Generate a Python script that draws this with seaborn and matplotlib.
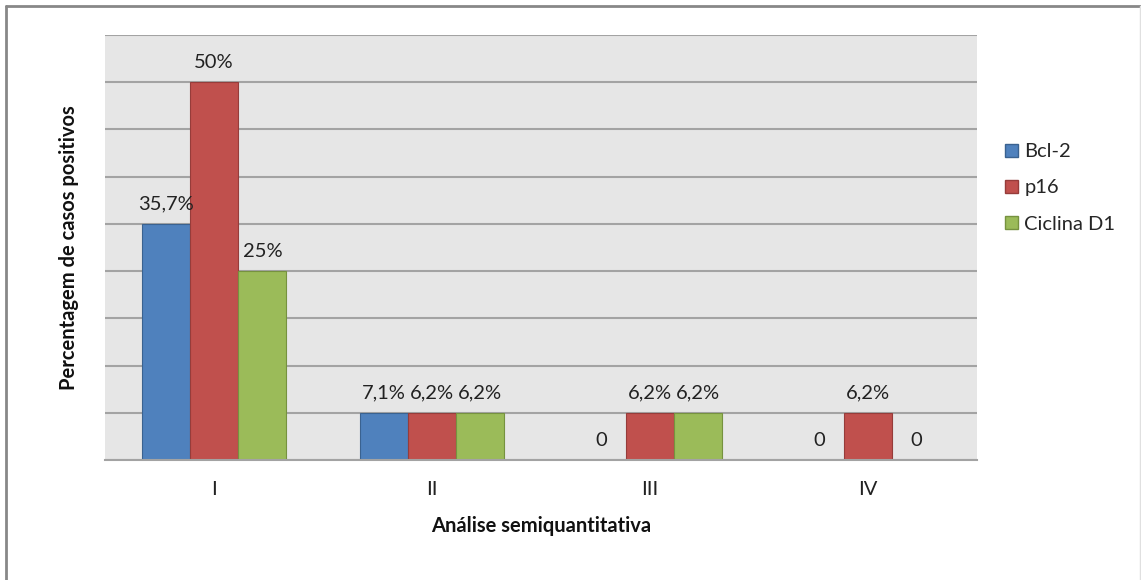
import matplotlib
matplotlib.use("Agg")
import matplotlib.pyplot as plt
import seaborn as sns
import pandas as pd
from matplotlib.lines import Line2D

categories = ["I", "II", "III", "IV"]
series = ["Bcl-2", "p16", "Ciclina D1"]
bcl2_values = [5, 1, 0, 0]
p16_values = [8, 1, 1, 1]
ciclina_values = [4, 1, 1, 0]
bcl2_labels = ["35,7%", "7,1%", "0", "0"]
p16_labels = ["50%", "6,2%", "6,2%", "6,2%"]
ciclina_labels = ["25%", "6,2%", "6,2%", "0"]

colors = ["#4F81BD", "#C0504D", "#9BBB59"]
edges = ["#3A6290", "#963C3A", "#76923F"]

rows = []
for name, vals in zip(series, [bcl2_values, p16_values, ciclina_values]):
    for c, v in zip(categories, vals):
        rows.append({"cat": c, "serie": name, "val": v})
df = pd.DataFrame(rows)

sns.set_theme(style="white")
plt.rcParams["font.family"] = ["Lato", "DejaVu Sans"]

FS = 14.5

fig = plt.figure(figsize=(11.41, 5.80), dpi=100)
ax = fig.add_axes([105/1141, 120/580, (977-105)/1141, (460-35)/580])

sns.barplot(data=df, x="cat", y="val", hue="serie", order=categories,
            hue_order=series, palette=colors, width=0.665, gap=0,
            saturation=1, ax=ax, legend=False)

all_labels = [bcl2_labels, p16_labels, ciclina_labels]
for i, cont in enumerate(ax.containers):
    for p in cont.patches:
        p.set_edgecolor(edges[i])
        p.set_linewidth(0.8)
    ax.bar_label(cont, labels=all_labels[i], padding=8, fontsize=FS,
                 color="#222222")

ax.set_facecolor("#E6E6E6")
ax.set_xlim(-0.5, 3.5)
ax.set_ylim(0, 9)
ax.set_yticks(range(0, 10))
ax.set_yticklabels([])
ax.yaxis.grid(True, color="#A3A3A3", linewidth=1.5)
ax.set_axisbelow(True)
for s in ["top", "right", "left"]:
    ax.spines[s].set_visible(False)
ax.spines["bottom"].set_color("#A3A3A3")
ax.spines["bottom"].set_linewidth(1.5)
ax.tick_params(axis="x", length=0, pad=15, labelsize=FS, labelcolor="#222222")
ax.tick_params(axis="y", length=0)

ax.set_xlabel("Análise semiquantitativa", fontsize=FS, fontweight="bold",
              color="#111111", labelpad=13)
ax.set_ylabel("Percentagem de casos positivos", fontsize=FS,
              fontweight="bold", color="#111111", labelpad=15)

handles = [plt.Rectangle((0, 0), 1, 1, facecolor=colors[i], edgecolor=edges[i])
           for i in range(3)]
fig.legend(handles, series, loc="center left",
           bbox_to_anchor=(997/1141, 1 - 188/580), frameon=False,
           fontsize=FS, handlelength=0.65, handleheight=0.65,
           handletextpad=0.3, labelspacing=0.95, borderaxespad=0)

fig.add_artist(Line2D([6/1141, 1140/1141], [1 - 6/580, 1 - 6/580],
                      transform=fig.transFigure, color="#888888", linewidth=2))
fig.add_artist(Line2D([6/1141, 6/1141], [0, 1 - 6/580],
                      transform=fig.transFigure, color="#888888", linewidth=2))
fig.add_artist(Line2D([1140/1141, 1140/1141], [0, 1 - 6/580],
                      transform=fig.transFigure, color="#E0E0E0", linewidth=1))

fig.savefig("out.png", dpi=100)
